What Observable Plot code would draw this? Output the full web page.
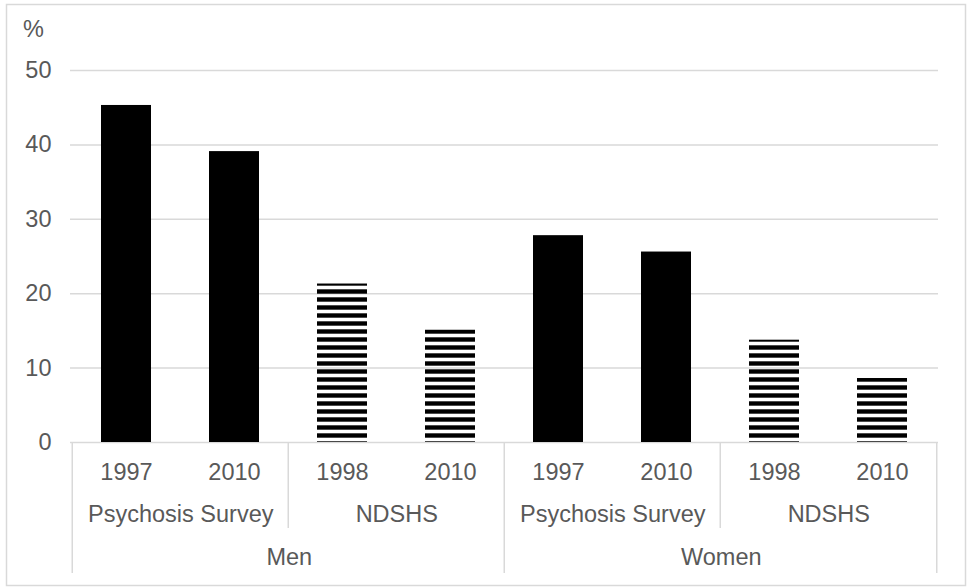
<!DOCTYPE html>
<html>
<head>
<meta charset="utf-8">
<script src="https://cdn.jsdelivr.net/npm/d3@7"></script>
<script src="https://cdn.jsdelivr.net/npm/@observablehq/plot@0.6"></script>
<style>
  body { margin: 0; background: #fff; }
  #chart { width: 968px; height: 587px; }
</style>
</head>
<body>
<div id="chart"></div>
<script>
// Prevalence (%) by sex, survey and survey year
const sexes   = ["Men", "Men", "Men", "Men", "Women", "Women", "Women", "Women"];
const surveys = ["Psychosis Survey", "Psychosis Survey", "NDSHS", "NDSHS",
                 "Psychosis Survey", "Psychosis Survey", "NDSHS", "NDSHS"];
const years   = ["1997", "2010", "1998", "2010", "1997", "2010", "1998", "2010"];
const values  = [45.3, 39.1, 21.3, 15.1, 27.8, 25.6, 13.75, 8.6];
const yTicks  = [0, 10, 20, 30, 40, 50];
const unitLabel = "%";

const rows = values.map((value, i) => ({
  key: `${sexes[i]}|${surveys[i]}|${years[i]}`,
  sex: sexes[i], survey: surveys[i], year: years[i], value, i
}));

const W = 968, H = 587;
const mL = 70, mR = 30, mT = 70, mB = 145;
const step = (W - mL - mR) / rows.length;
const grid = "#d9d9d9";
const ink = "#595959";
const fs = 23.5;

// first category of each survey pair / each sex group
const surveyStarts = rows.filter(d => d.i % 2 === 0);
const sexStarts = rows.filter(d => d.i % 4 === 0);
const shortSeps = rows.filter(d => d.i % 4 === 2);
const lastRow = rows.slice(-1);

const chart = Plot.plot({
  width: W, height: H,
  marginLeft: mL, marginRight: mR, marginTop: mT, marginBottom: mB,
  style: { fontFamily: "'Liberation Sans', Arial, sans-serif", fontSize: `${fs}px`, color: ink, background: "#fff", overflow: "visible" },
  x: { domain: rows.map(d => d.key), paddingInner: 0.54, paddingOuter: 0.27, axis: null },
  y: { domain: [0, 50], label: null },
  marks: [
    // outer chart border
    Plot.frame({ stroke: grid, strokeWidth: 1.5, insetLeft: -64, insetTop: -66, insetRight: -27, insetBottom: -143 }),
    // gridlines
    Plot.ruleY(yTicks, { stroke: grid, strokeWidth: 1.5 }),
    Plot.axisY({ ticks: yTicks, tickSize: 0, tickPadding: 19, label: null, fontSize: fs }),
    Plot.text([unitLabel], { frameAnchor: "top-left", textAnchor: "middle", lineAnchor: "middle", dx: -37, dy: -41, fontSize: fs }),
    // bars
    Plot.barY(rows.filter(d => d.survey !== "NDSHS"), { x: "key", y: "value", fill: "#000" }),
    Plot.barY(rows.filter(d => d.survey === "NDSHS"), { x: "key", y: "value", fill: "url(#ndshs-stripes)" }),
    // multi-level category axis
    Plot.ruleX(sexStarts, { x: "key", y1: 0, y2: 0, dx: -step / 2, insetBottom: -131, stroke: grid, strokeWidth: 1.5 }),
    Plot.ruleX(lastRow, { x: "key", y1: 0, y2: 0, dx: step / 2, insetBottom: -131, stroke: grid, strokeWidth: 1.5 }),
    Plot.ruleX(shortSeps, { x: "key", y1: 0, y2: 0, dx: -step / 2, insetBottom: -86, stroke: grid, strokeWidth: 1.5 }),
    Plot.text(rows, { x: "key", frameAnchor: "bottom", lineAnchor: "middle", text: "year", dy: 30, fontSize: fs }),
    Plot.text(surveyStarts, { x: "key", frameAnchor: "bottom", lineAnchor: "middle", text: "survey", dx: step / 2, dy: 72, fontSize: fs }),
    Plot.text(sexStarts, { x: "key", frameAnchor: "bottom", lineAnchor: "middle", text: "sex", dx: step * 1.5, dy: 115, fontSize: fs })
  ]
});

// horizontal stripe fill for the NDSHS bars
d3.select(chart).insert("defs", ":first-child").html(
  `<pattern id="ndshs-stripes" patternUnits="userSpaceOnUse" width="8" height="8">
     <rect x="0" y="1.3" width="8" height="4.4" fill="#000"></rect>
   </pattern>`
);

document.getElementById("chart").appendChild(chart);
</script>
</body>
</html>
